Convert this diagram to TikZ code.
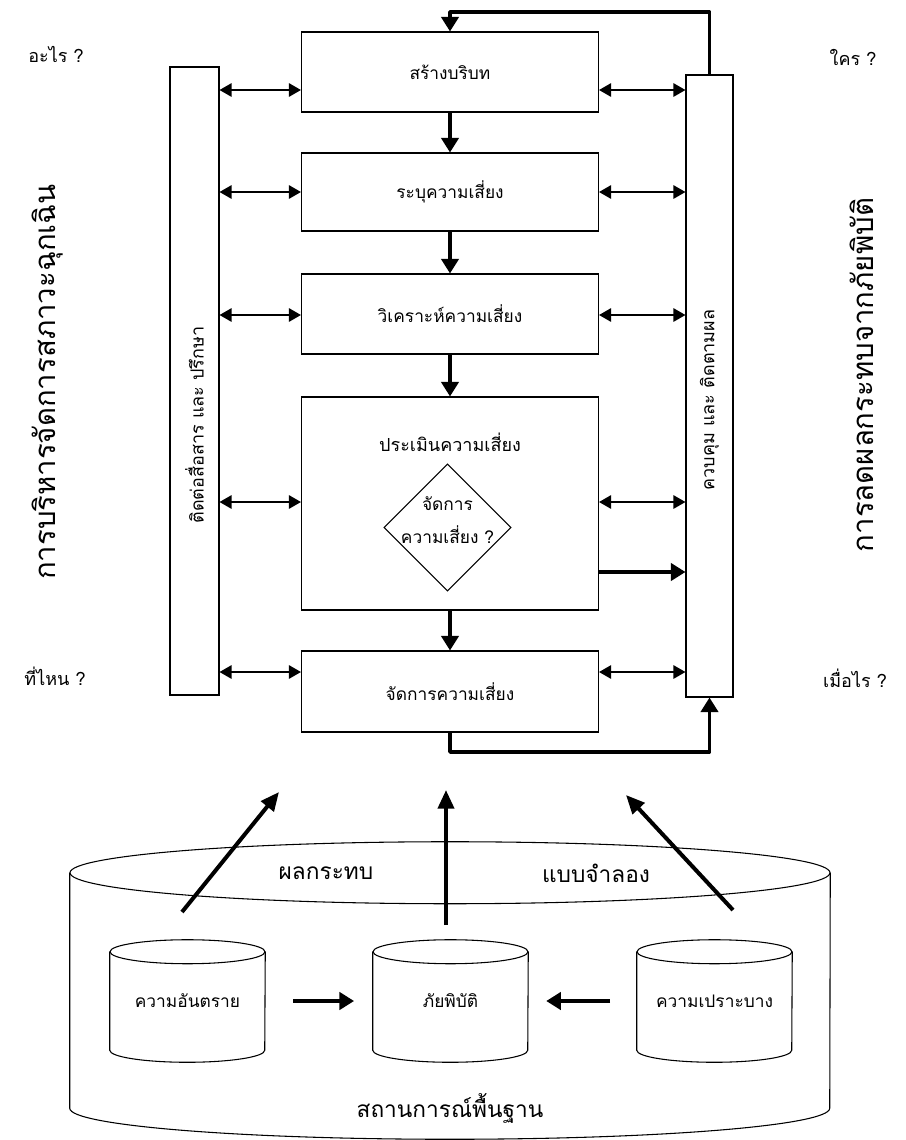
\documentclass[tikz,border=0pt]{standalone}
\usepackage{fontspec}
\setmainfont{Loma}[Script=Thai]
\usetikzlibrary{arrows.meta,shapes.geometric}

\begin{document}
\begin{tikzpicture}[x=0.75pt, y=-0.75pt,
    stepbox/.style={draw, line width=0.8pt, minimum width=222.75pt, inner sep=0pt,
                    font=\fontsize{13}{16}\selectfont},
    sidebox/.style={draw, line width=0.8pt, inner sep=0pt},
    sidetxt/.style={inner sep=0pt, rotate=90, font=\fontsize{13.5}{16}\selectfont},
    dec/.style={diamond, draw, line width=0.8pt, minimum width=95.25pt, minimum height=95.25pt,
                inner sep=0pt},
    dectxt/.style={inner sep=0pt, align=center, font=\fontsize{13}{25}\selectfont},
    lbl/.style={inner sep=0pt, font=\fontsize{13.5}{16}\selectfont},
    biglbl/.style={inner sep=0pt, font=\fontsize{17}{20}\selectfont},
    side/.style={inner sep=0pt, rotate=90, font=\fontsize{22}{26}\selectfont},
    can/.style={inner sep=0pt, font=\fontsize{13}{16}\selectfont},
    dbl/.style={{Triangle[length=9pt,width=10pt]}-{Triangle[length=9pt,width=10pt]}, line width=1.3pt},
    thk/.style={-{Triangle[length=11pt,width=13pt]}, line width=2.6pt, line join=round},
    upar/.style={-{Triangle[length=14pt,width=12pt]}, line width=3pt}
  ]
    \fill[white] (0,0) rectangle (906,1140);
    \useasboundingbox (0,0) rectangle (906,1140);

    \node[stepbox, minimum height=60pt]     (ctx)   at (450,72)    {สร้างบริบท};
    \node[stepbox, minimum height=58.5pt]   (ident) at (450,192)   {ระบุความเสี่ยง};
    \node[stepbox, minimum height=60pt]     (anal)  at (450,314)   {วิเคราะห์ความเสี่ยง};
    \node[stepbox, minimum height=159.75pt] (eval)  at (450,503.5) {};
    \node[lbl] (evaltxt) at (450,442) {ประเมินความเสี่ยง};
    \node[dec] (choice) at (447.5,527.5) {};
    \node[dectxt] (choicetxt) at (447.5,520) {จัดการ\\ความเสี่ยง ?};
    \node[stepbox, minimum height=60.75pt]  (treat) at (450,691.5) {จัดการความเสี่ยง};

    \node[sidebox, minimum width=36.75pt, minimum height=471pt]  (comm) at (194.5,381) {};
    \node[sidetxt] (commtxt) at (194.5,425) {ติดต่อสื่อสาร และ ปรึกษา};
    \node[sidebox, minimum width=35.25pt, minimum height=466.5pt] (mon) at (709.5,386) {};
    \node[sidetxt] (montxt) at (709.5,400) {ควบคุม และ ติดตามผล};

    \node[lbl] (qwhat)  at (56,54)   {อะไร ?};
    \node[lbl] (qwho)   at (853,57)  {ใคร ?};
    \node[lbl] (qwhere) at (55,676)  {ที่ไหน ?};
    \node[lbl] (qwhen)  at (855,678) {เมื่อไร ?};
    \node[side] (emerg) at (48,382)  {การบริหารจัดการสภาวะฉุกเฉิน};
    \node[side] (mitig) at (862,375) {การลดผลกระทบจากภัยพิบัติ};

    \foreach \bx/\yy in {ctx/90, ident/192, anal/315, eval/502, treat/672} {
      \draw[dbl] (comm.east |- 0,\yy) -- (\bx.west |- 0,\yy);
      \draw[dbl] (\bx.east |- 0,\yy) -- (mon.west |- 0,\yy);
    }

    \draw[thk] (ctx) -- (ident);
    \draw[thk] (ident) -- (anal);
    \draw[thk] (anal) -- (eval);
    \draw[thk] (eval) -- (treat);
    \draw[thk] (eval.east |- 0,572) -- (mon.west |- 0,572);
    \draw[thk] (mon.north) -- (mon.north |- 0,12) -| (ctx.north);
    \draw[thk] (treat.south) -- (treat.south |- 0,752) -| (mon.south);

    \node[inner sep=0pt, minimum width=570pt, minimum height=176.25pt] (base) at (450,990.5) {};
    \draw[line width=0.8pt] (base.north west) -- (base.south west)
      arc[start angle=180, end angle=0, x radius=380, y radius=31] -- (base.north east);
    \draw[line width=0.8pt] (base.north) ellipse[x radius=380, y radius=31];
    \node[biglbl] (impact) at (326,873)  {ผลกระทบ};
    \node[biglbl] (model)  at (596,873)  {แบบจำลอง};
    \node[biglbl] (basetxt) at (450,1108) {สถานการณ์พื้นฐาน};

    \foreach \nm/\cx/\txt in {haz/187.5/ความอันตราย, dis/450.5/ภัยพิบัติ, vul/714.5/ความเปราะบาง} {
      \node[can, minimum width=116.25pt, minimum height=73.5pt] (\nm) at (\cx,1001) {\txt};
      \draw[line width=0.8pt] (\nm.north west) -- (\nm.south west)
        arc[start angle=180, end angle=0, x radius=77.5, y radius=12] -- (\nm.north east);
      \draw[line width=0.8pt] (\nm.north) ellipse[x radius=77.5, y radius=12];
    }

    \draw[thk, shorten <=21pt, shorten >=14pt] (haz.east) -- (dis.west);
    \draw[thk, shorten <=20pt, shorten >=13.5pt] (vul.west) -- (dis.east);

    \coordinate (hazup) at (182,912);
    \coordinate (hazto) at (279,792);
    \coordinate (disup) at (446,925);
    \coordinate (disto) at (446,790);
    \coordinate (vulup) at (733,910);
    \coordinate (vulto) at (626,795);
    \draw[upar] (hazup) -- (hazto);
    \draw[upar] (disup) -- (disto);
    \draw[upar] (vulup) -- (vulto);
  \end{tikzpicture}
\end{document}
